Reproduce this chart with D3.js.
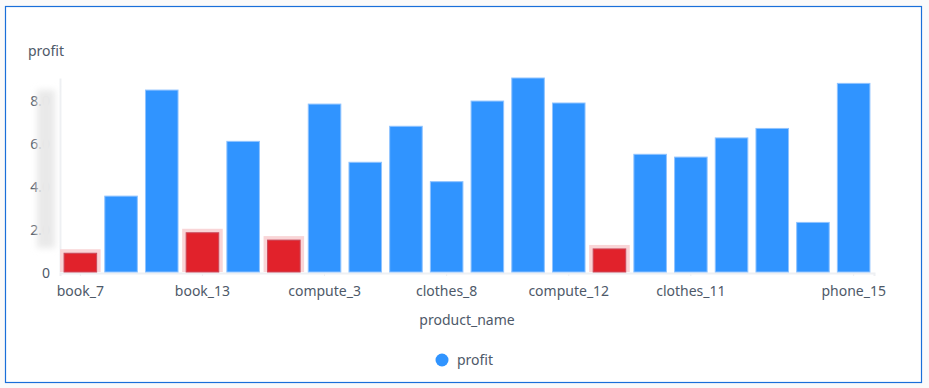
<!DOCTYPE html>
<html>
<head>
<meta charset="utf-8">
<script src="https://cdn.jsdelivr.net/npm/d3@7"></script>
<style>
  html, body { margin: 0; padding: 0; background: #fafafa; }
  body { width: 929px; height: 388px; overflow: hidden; }
  text { font-family: "Noto Sans", "Open Sans", sans-serif; }
</style>
</head>
<body>
<div class="chart"></div>
<script>
// data
var products = ["book_7", "book_9", "book_11", "book_13", "book_15", "compute_1", "compute_3",
    "compute_5", "clothes_6", "clothes_8", "clothes_10", "compute_10", "compute_12", "compute_14",
    "clothes_9", "clothes_11", "clothes_13", "phone_11", "phone_13", "phone_15"];
var profit = [0.87, 3.52, 8.44, 1.82, 6.06, 1.48, 7.79, 5.09, 6.76, 4.19,
    7.93, 9.0, 7.84, 1.07, 5.46, 5.33, 6.22, 6.66, 2.3, 8.75];
var xTickLabels = ["book_7", "book_13", "compute_3", "clothes_8", "compute_12", "clothes_11", "phone_15"];
var yTickValues = [0, 2, 4, 6, 8];
var yTickLabels = ["0", "2.0", "4.0", "6.0", "8.0"];
var lowLimit = 2; // bars under this get highlighted red

const W = 929, H = 388;
const margin = {top: 78, right: 55, bottom: 116, left: 60};
const width = W - margin.left - margin.right,
    height = H - margin.top - margin.bottom;

var svg = d3.select(".chart").append("svg")
    .attr("width", W)
    .attr("height", H);

// frame
svg.append("rect")
    .attr("x", 5.5).attr("y", 6.5)
    .attr("width", 916).attr("height", 376)
    .attr("fill", "#fff")
    .attr("stroke", "#1a6fd9")
    .attr("stroke-width", 1.2);

var defs = svg.append("defs");
defs.append("filter").attr("id", "blur")
    .attr("x", "-60%").attr("y", "-20%").attr("width", "220%").attr("height", "140%")
    .append("feGaussianBlur").attr("stdDeviation", 3);

var g = svg.append("g")
    .attr("transform", "translate(" + margin.left + "," + margin.top + ")");

var data = products.map((p, i) => ({product: p, profit: profit[i]}));

const xScale = d3.scaleBand()
    .domain(products)
    .range([0, width])
    .paddingInner(0.2)
    .paddingOuter(0.1);

const yScale = d3.scaleLinear()
    .domain([0, d3.max(profit)])
    .range([height, 0]);

// y axis
var yAxis = g.append("g")
    .call(d3.axisLeft(yScale).tickValues(yTickValues)
        .tickFormat((d, i) => yTickLabels[i]).tickSize(0).tickPadding(10));
yAxis.select(".domain").attr("stroke", "#eef0f3").attr("stroke-width", 2);
yAxis.selectAll("text").attr("fill", "#4e5969").attr("font-size", 14).attr("dy", "0.4em");

// x axis
var xAxis = g.append("g")
    .attr("transform", "translate(0," + (height + 1) + ")")
    .call(d3.axisBottom(xScale).tickValues(xTickLabels).tickSize(3).tickPadding(10));
xAxis.select(".domain").attr("stroke", "#eef0f3").attr("stroke-width", 2);
xAxis.selectAll(".tick line").attr("stroke", "#eef0f3");
xAxis.selectAll("text").attr("fill", "#4e5969").attr("font-size", 14);

// highlight halos behind low bars
g.selectAll(".halo")
    .data(data.filter(d => d.profit < lowLimit))
    .enter().append("rect")
    .attr("class", "halo")
    .attr("x", d => xScale(d.product) - 4)
    .attr("y", d => yScale(d.profit) - 4)
    .attr("width", xScale.bandwidth() + 8)
    .attr("height", d => height - yScale(d.profit) + 4)
    .attr("fill", "#f9d5d7");

g.selectAll(".bar")
    .data(data)
    .enter().append("rect")
    .attr("class", "bar")
    .attr("x", d => xScale(d.product))
    .attr("y", d => yScale(d.profit))
    .attr("width", xScale.bandwidth())
    .attr("height", d => height - yScale(d.profit))
    .attr("fill", d => d.profit < lowLimit ? "#e1222b" : "#3094ff")
    .attr("stroke", d => d.profit < lowLimit ? "#c9495a" : "#8fc3ff")
    .attr("stroke-width", 1);

// blurred patch over the y labels
svg.append("rect")
    .attr("x", 37).attr("y", 90)
    .attr("width", 18).attr("height", 158)
    .attr("fill", "#e9e9e9")
    .attr("filter", "url(#blur)");

// titles
svg.append("text")
    .text("profit")
    .attr("x", 28).attr("y", 56)
    .attr("fill", "#4e5969")
    .attr("font-size", 14);

svg.append("text")
    .text("product_name")
    .attr("x", margin.left + width / 2).attr("y", 325)
    .attr("text-anchor", "middle")
    .attr("fill", "#4e5969")
    .attr("font-size", 14);

// legend
var legend = svg.append("g").attr("transform", "translate(442,360)");
legend.append("circle").attr("r", 6.5).attr("fill", "#3094ff");
legend.append("text")
    .text("profit")
    .attr("x", 15).attr("y", 5)
    .attr("fill", "#4e5969")
    .attr("font-size", 14);
</script>
</body>
</html>
